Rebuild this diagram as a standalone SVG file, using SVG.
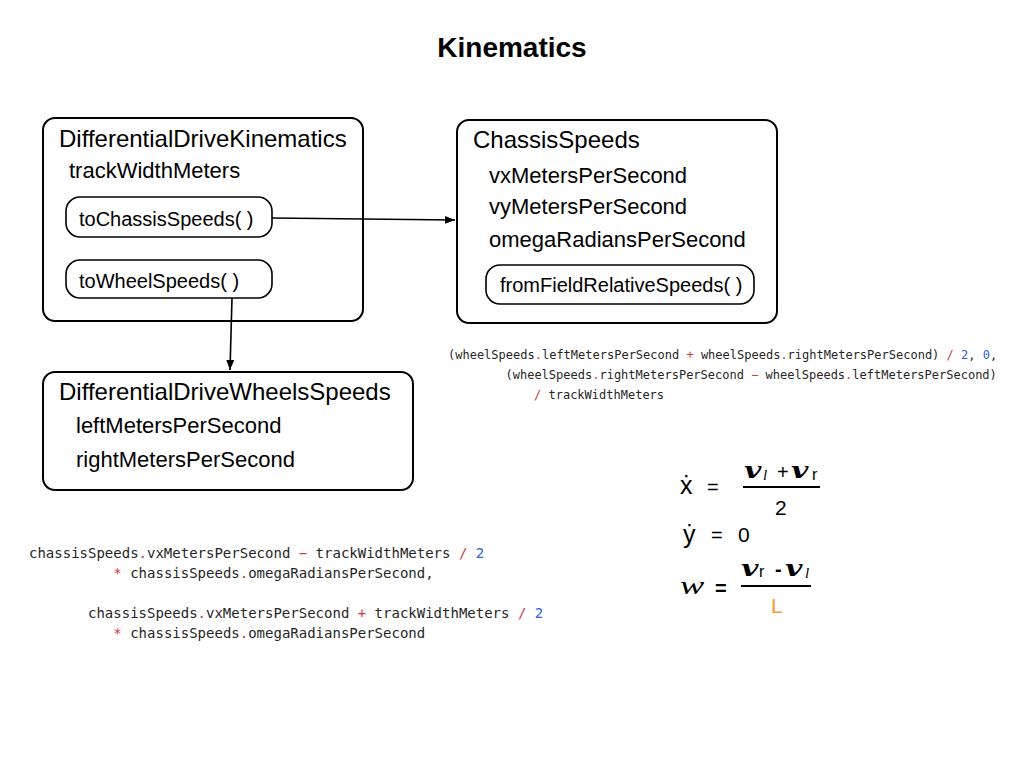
<svg xmlns="http://www.w3.org/2000/svg" width="1024" height="768" viewBox="0 0 1024 768">
<style>
.box{fill:#fff;stroke:#000;stroke-width:2}
.pill{fill:#fff;stroke:#000;stroke-width:1.6}
.t{font-family:"Liberation Sans",Arial,sans-serif;fill:#000}
.h{font-size:24px}
.f{font-size:22px}
.m{font-size:20px}
.code{font-family:"DejaVu Sans Mono",monospace;fill:#262626}
.c1{font-size:12px}
.c2{font-size:14px}
.r{fill:#d0393b}
.b{fill:#2f5fd0}
.conn{stroke:#000;stroke-width:1.6;fill:none}
.v{font-family:"DejaVu Serif","Liberation Serif",serif;font-weight:bold;font-style:italic;font-size:23px}
.sub{font-family:"Liberation Serif",serif;font-style:italic;font-size:15px}
.subr{font-family:"Liberation Sans",sans-serif;font-size:16px}
.w{font-family:"Liberation Serif","Times New Roman",serif;font-style:italic;font-weight:normal;font-size:26px}
</style>
<defs>
<marker id="arr" viewBox="0 0 10 10" refX="10" refY="5" markerWidth="10" markerHeight="10" markerUnits="userSpaceOnUse" orient="auto">
<path d="M0,1 L10,5 L0,9 z" fill="#000"/>
</marker>
</defs>
<rect width="1024" height="768" fill="#fff"/>
<text class="t" x="512" y="57" font-size="28" font-weight="bold" text-anchor="middle">Kinematics</text>

<g id="differentialDriveKinematics">
<rect class="box" x="43" y="118" width="320" height="203" rx="12"/>
<text class="t h" x="59" y="147">DifferentialDriveKinematics</text>
<text class="t f" x="69" y="178">trackWidthMeters</text>
<g id="toChassisSpeeds">
<rect class="pill" x="66" y="197" width="206" height="40" rx="14"/>
<text class="t m" x="79" y="226">toChassisSpeeds( )</text>
</g>
<g id="toWheelSpeeds">
<rect class="pill" x="66" y="260" width="206" height="38" rx="14"/>
<text class="t m" x="79" y="288">toWheelSpeeds( )</text>
</g>
</g>

<g id="chassisSpeeds">
<rect class="box" x="457" y="120" width="320" height="203" rx="12"/>
<text class="t h" x="473" y="148">ChassisSpeeds</text>
<text class="t f" x="489" y="183">vxMetersPerSecond</text>
<text class="t f" x="489" y="214">vyMetersPerSecond</text>
<text class="t f" x="489" y="247">omegaRadiansPerSecond</text>
<g id="fromFieldRelativeSpeeds">
<rect class="pill" x="486" y="265" width="268" height="39" rx="14"/>
<text class="t m" x="500" y="292">fromFieldRelativeSpeeds( )</text>
</g>
</g>

<g id="differentialDriveWheelsSpeeds">
<rect class="box" x="43" y="372" width="370" height="118" rx="12"/>
<text class="t h" x="59" y="400">DifferentialDriveWheelsSpeeds</text>
<text class="t f" x="76" y="433">leftMetersPerSecond</text>
<text class="t f" x="76" y="467">rightMetersPerSecond</text>
</g>

<g id="connectors">
<line class="conn" x1="272" y1="218" x2="455" y2="220" marker-end="url(#arr)"/>
<line class="conn" x1="232" y1="298" x2="230" y2="370" marker-end="url(#arr)"/>
</g>

<g id="code-toChassis">
<text class="code c1" x="448" y="359">(wheelSpeeds<tspan class="r">.</tspan>leftMetersPerSecond <tspan class="r">+</tspan> wheelSpeeds<tspan class="r">.</tspan>rightMetersPerSecond) <tspan class="r">/</tspan> <tspan class="b">2</tspan>, <tspan class="b">0</tspan>,</text>
<text class="code c1" x="505.5" y="379">(wheelSpeeds<tspan class="r">.</tspan>rightMetersPerSecond <tspan class="r">−</tspan> wheelSpeeds<tspan class="r">.</tspan>leftMetersPerSecond)</text>
<text class="code c1" x="534" y="399"><tspan class="r">/</tspan> trackWidthMeters</text>
</g>

<g id="code-toWheel">
<text class="code c2" x="29" y="558">chassisSpeeds<tspan class="r">.</tspan>vxMetersPerSecond <tspan class="r">−</tspan> trackWidthMeters <tspan class="r">/</tspan> <tspan class="b">2</tspan></text>
<text class="code c2" x="113.3" y="578"><tspan class="r">*</tspan> chassisSpeeds<tspan class="r">.</tspan>omegaRadiansPerSecond,</text>
<text class="code c2" x="88" y="618">chassisSpeeds<tspan class="r">.</tspan>vxMetersPerSecond <tspan class="r">+</tspan> trackWidthMeters <tspan class="r">/</tspan> <tspan class="b">2</tspan></text>
<text class="code c2" x="113.3" y="638"><tspan class="r">*</tspan> chassisSpeeds<tspan class="r">.</tspan>omegaRadiansPerSecond</text>
</g>

<g id="equations">
<text class="t" x="680" y="494" font-size="25">ẋ</text>
<text class="t" x="707" y="494" font-size="20">=</text>
<text class="v" transform="translate(744 478) scale(1.3 1)">v</text>
<text class="sub" x="763" y="480">l</text>
<text class="t" x="777" y="479" font-size="20">+</text>
<text class="v" transform="translate(791 478) scale(1.3 1)">v</text>
<text class="subr" x="812" y="480">r</text>
<line x1="743" y1="487" x2="820" y2="487" stroke="#000" stroke-width="2"/>
<text class="t" x="775" y="515" font-size="21">2</text>

<text class="t" x="683" y="543" font-size="25">ẏ</text>
<text class="t" x="711" y="542" font-size="20">=</text>
<text class="t" x="738" y="542" font-size="21">0</text>

<text class="w" transform="translate(680 594) scale(1.4 1)">w</text>
<text class="t" x="715" y="595" font-size="20" font-weight="bold">=</text>
<text class="v" transform="translate(741 576) scale(1.3 1)">v</text>
<text class="subr" x="759" y="577">r</text>
<text class="t" x="775" y="576" font-size="20" font-weight="bold">-</text>
<text class="v" transform="translate(785 576) scale(1.3 1)">v</text>
<text class="sub" x="805" y="578">l</text>
<line x1="741" y1="586" x2="811" y2="586" stroke="#000" stroke-width="2"/>
<text class="t" x="771" y="613" font-size="21" style="fill:#f29b2b">L</text>
</g>
</svg>
